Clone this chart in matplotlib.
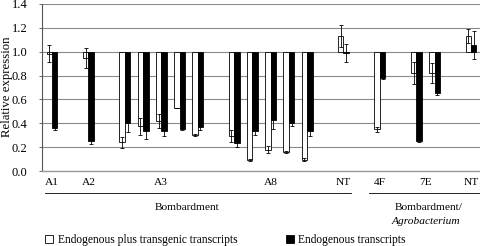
import matplotlib
matplotlib.use("Agg")
import matplotlib.pyplot as plt
import matplotlib.transforms as mtransforms
from matplotlib.patches import Patch
import numpy as np

plt.rcParams['font.family'] = ['Liberation Serif', 'DejaVu Serif']

# slot index of every bar pair (empty slots separate the lines)
slots = [0, 2, 4, 5, 6, 7, 8, 10, 11, 12, 13, 14, 16, 18, 20, 21, 23]
# endogenous plus transgenic (white) and endogenous (black)
white = [0.985, 0.95, 0.24, 0.375, 0.42, 0.525, 0.30, 0.295, 0.09, 0.18, 0.16, 0.095,
         1.13, 0.35, 0.82, 0.82, 1.13]
white_err = [0.07, 0.085, 0.045, 0.07, 0.06, 0.0, 0.01, 0.05, 0.01, 0.03, 0.01, 0.01,
             0.09, 0.02, 0.09, 0.085, 0.06]
black = [0.36, 0.25, 0.405, 0.335, 0.335, 0.35, 0.365, 0.235, 0.335, 0.425, 0.40, 0.335,
         0.99, 0.78, 0.255, 0.65, 1.055]
black_err = [0.02, 0.02, 0.075, 0.065, 0.045, 0.01, 0.02, 0.03, 0.03, 0.07, 0.02, 0.04,
             0.075, 0.01, 0.01, 0.01, 0.12]

tick_pos = [0, 2, 6, 12, 16, 18, 20.5, 23]
tick_lab = ['A1', 'A2', 'A3', 'A8', 'NT', '4F', '7E', 'NT']

fig = plt.figure(figsize=(4.81, 2.46), dpi=100)
ax = fig.add_axes([42/481, 1-171/246, 1-42/481, 167/246])

x = np.array(slots, dtype=float)
w = np.array(white)
b = np.array(black)
bw = 0.3
base = 1.0

ax.bar(x - bw/2, w - base, bw, bottom=base, color='white', edgecolor='black',
       linewidth=0.6, zorder=3)
ax.bar(x + bw/2, b - base, bw, bottom=base, color='black', edgecolor='black',
       linewidth=0.6, zorder=3)
ax.errorbar(x - bw/2, w, yerr=white_err, fmt='none', ecolor='black', elinewidth=0.6,
            capsize=1.5, capthick=0.6, zorder=4)
ax.errorbar(x + bw/2, b, yerr=black_err, fmt='none', ecolor='black', elinewidth=0.6,
            capsize=1.5, capthick=0.6, zorder=4)

ax.set_ylim(0, 1.4)
ax.set_xlim(-0.55, 23.55)
ax.set_yticks(np.arange(0, 1.41, 0.2))
ax.set_yticklabels(['%.1f' % v for v in np.arange(0, 1.41, 0.2)], fontsize=9)
ax.yaxis.grid(True, color='#8a8a8a', linewidth=0.8, zorder=0)
ax.set_axisbelow(True)
ax.set_xticks(tick_pos)
ax.set_xticklabels(tick_lab, fontsize=8.2)
ax.tick_params(axis='x', length=0, pad=5)
ax.tick_params(axis='y', length=2.5, width=0.6, color='#555555', pad=8)
for s in ['top', 'right']:
    ax.spines[s].set_visible(False)
ax.spines['left'].set_color('#555555')
ax.spines['left'].set_linewidth(0.8)
ax.spines['bottom'].set_color('#9a9a9a')
ax.spines['bottom'].set_linewidth(1.0)
fig.text(7/481, 1 - 87/246, 'Relative expression', rotation=90, ha='center',
         va='center', fontsize=9.2)

# group brackets below the tick labels
tr = mtransforms.blended_transform_factory(ax.transData, fig.transFigure)
yl = 1 - 193/246
ax.plot([slots[0] - 0.4, slots[12] + 0.4], [yl, yl], color='black', lw=0.6,
        transform=tr, clip_on=False)
ax.plot([slots[13] - 0.6, slots[-1] + 0.5], [yl, yl], color='black', lw=0.6,
        transform=tr, clip_on=False)
ax.text(7.4, 1 - 207/246, 'Bombardment', transform=tr, ha='center', va='center',
        fontsize=8.2)
ax.text(20.7, 1 - 207/246, 'Bombardment/', transform=tr, ha='center', va='center',
        fontsize=8.2)
ax.text(20.5, 1 - 222/246, 'Agrobacterium', transform=tr, ha='center', va='center',
        fontsize=8.2, style='italic')

handles = [Patch(facecolor='white', edgecolor='black', linewidth=0.6),
           Patch(facecolor='black', edgecolor='black', linewidth=0.6)]
fig.legend(handles, ['Endogenous plus transgenic transcripts', 'Endogenous transcripts'],
           loc='center left', bbox_to_anchor=(45/481, 1 - 240/246), ncol=2, frameon=False,
           fontsize=8.3, handlelength=0.7, handleheight=0.7, handletextpad=0.4,
           columnspacing=4.2, borderpad=0, borderaxespad=0)

fig.savefig('out.png', dpi=100)
